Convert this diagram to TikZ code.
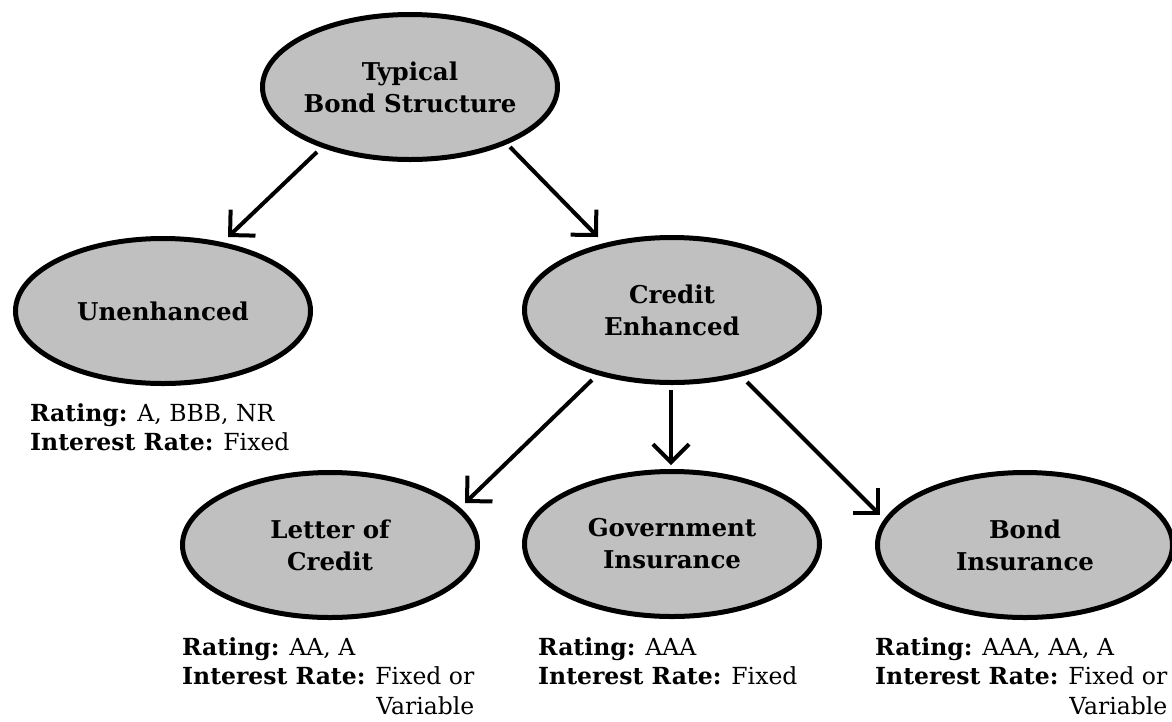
\documentclass[tikz,border=0pt]{standalone}
\usepackage{fontspec}
\setmainfont{DejaVu Serif}
\usetikzlibrary{arrows.meta,shapes.geometric,calc}
\definecolor{ellfill}{RGB}{192,192,192}
\begin{document}
\begin{tikzpicture}[x=1pt,y=-1pt,
  bub/.style={ellipse,draw=black,line width=5pt,fill=ellfill,minimum width=295pt,minimum height=145pt,inner xsep=-20pt,inner ysep=0pt,align=center,font=\fontsize{24.5}{32}\selectfont\bfseries},
  arr/.style={line width=4pt,-{Straight Barb[length=18pt,width=36pt]}},
  note/.style={anchor=base west,inner sep=0pt,font=\fontsize{23.5}{29.5}\selectfont}]
\useasboundingbox (0,0) rectangle (1172,721);
\clip (0,0) rectangle (1172,721);
\node[bub] (top) at (410,87) {Typical\\Bond Structure};
\node[bub] (unenh) at (163,311) {Unenhanced};
\node[bub] (credit) at (672,310) {Credit\\Enhanced};
\node[bub] (loc) at (330,545) {Letter of\\Credit};
\node[bub] (gov) at (672,544) {Government\\Insurance};
\node[bub] (bond) at (1025,545) {Bond\\Insurance};
\draw[arr] ($(top)+(-93,65)$) -- ($(unenh)+(65,-74)$);
\draw[arr] ($(top)+(100,60)$) -- ($(credit)+(-74,-73)$);
\draw[arr] ($(credit)+(-80,70)$) -- ($(loc)+(135,-42)$);
\draw[arr] ($(credit)+(-1,80)$) -- ($(gov)+(-1,-79)$);
\draw[arr] ($(credit)+(75,72)$) -- ($(bond)+(-145,-30)$);
\node[note] (n1) at (30,421) {\begin{tabular}[t]{@{}l@{}}\textbf{Rating:} A, BBB, NR\\\textbf{Interest Rate:} Fixed\end{tabular}};
\node[note] (n2) at (182,655) {\begin{tabular}[t]{@{}l@{}}\textbf{Rating:} AA, A\\\textbf{Interest Rate:} Fixed or\\\hfill Variable\end{tabular}};
\node[note] (n3) at (538,655) {\begin{tabular}[t]{@{}l@{}}\textbf{Rating:} AAA\\\textbf{Interest Rate:} Fixed\end{tabular}};
\node[note] (n4) at (875,655) {\begin{tabular}[t]{@{}l@{}}\textbf{Rating:} AAA, AA, A\\\textbf{Interest Rate:} Fixed or\\\hfill Variable\end{tabular}};
\end{tikzpicture}
\end{document}
